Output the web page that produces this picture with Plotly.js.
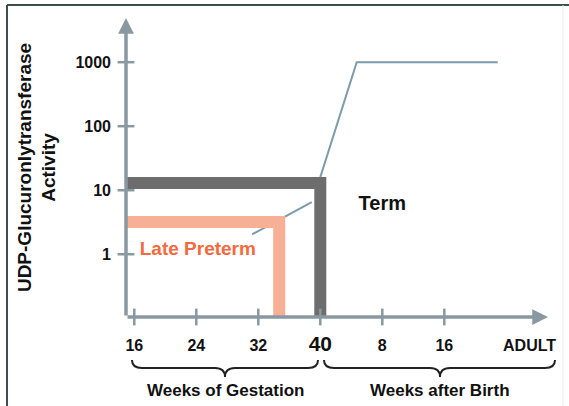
<!DOCTYPE html>
<html><head><meta charset="utf-8">
<script src="https://cdn.plot.ly/plotly-3.0.1.min.js"></script>
<style>html,body{margin:0;padding:0;background:#fff}</style>
</head><body><div id="chart" style="width:569px;height:406px"></div>
<script>
// x: gestational age in weeks (40 = birth, 48 = 8 weeks after birth, 56 = 16 weeks after birth)
const xTickVals = [16, 24, 32, 40, 48, 56, 67];
const xTickText = ['16', '24', '32', '<span style="font-size:21px">40</span>', '8', '16', 'ADULT'];
const xTickMarks = [16, 24, 32, 40, 48, 56];
const yTickVals = [1, 10, 100, 1000];
const yTickText = ['1', '10', '100', '1000'];

// Term band (L shape), late preterm band (L shape)
const termBandX = [14.9, 40, 40];
const termBandY = [13, 13, 0.105];
const pretermBandX = [14.9, 34.7, 34.7];
const pretermBandY = [3.2, 3.2, 0.105];

// UDP-glucuronyltransferase activity curve
const activityX = [40, 44.7, 62.9];
const activityY = [16, 1000, 1000];

// pointer from "Late Preterm" label to the term band
const pointerX = [31.2, 38.9];
const pointerY = [2.05, 6.5];

const labelText = ['Term', 'Late Preterm'];
const labelX = [48, 24.2];
const labelY = [5.8, 1.15];

const braceLabels = ['Weeks of Gestation', 'Weeks after Birth'];
const yTitle = 'UDP-Glucuronlytransferase<br>Activity';

const xRange = [14.93, 69.38];
const yRange = [-0.98, 3.69];
const yBottom = Math.pow(10, yRange[0]);

const axisColor = '#8899a1';
const font = 'Liberation Sans, Arial, sans-serif';

const traces = [
  {x: pointerX, y: pointerY, mode: 'lines', line: {color: '#7d9cab', width: 2}, hoverinfo: 'skip'},
  {x: pretermBandX, y: pretermBandY, mode: 'lines', line: {color: '#f7b096', width: 12}, hoverinfo: 'skip'},
  {x: termBandX, y: termBandY, mode: 'lines', line: {color: '#6d6d6d', width: 12}, hoverinfo: 'skip'},
  {x: activityX, y: activityY, mode: 'lines', line: {color: '#7d9cab', width: 2}, hoverinfo: 'skip'},
  {x: [labelX[0]], y: [labelY[0]], mode: 'text', text: ['<b>' + labelText[0] + '</b>'],
   textfont: {family: font, size: 20, color: '#111'}, hoverinfo: 'skip'},
  {x: [labelX[1]], y: [labelY[1]], mode: 'text', text: ['<b>' + labelText[1] + '</b>'],
   textfont: {family: font, size: 19, color: '#f26a3e'}, hoverinfo: 'skip'},
  {x: xTickMarks, y: xTickMarks.map(() => yBottom), mode: 'markers', cliponaxis: false,
   marker: {symbol: 'line-ns-open', size: 12, color: axisColor, line: {color: axisColor, width: 2.5}}, hoverinfo: 'skip'},
  {x: yTickVals.map(() => xRange[0]), y: yTickVals, mode: 'markers', cliponaxis: false,
   marker: {symbol: 'line-ew-open', size: 12, color: axisColor, line: {color: axisColor, width: 2.5}}, hoverinfo: 'skip'}
];

function brace(x0, xm, x1, yt, ymid, yb, d) {
  return `M${x0},${yt} Q${x0},${ymid} ${x0 + d},${ymid} L${xm - d},${ymid} Q${xm},${ymid} ${xm},${yb} ` +
         `Q${xm},${ymid} ${xm + d},${ymid} L${x1 - d},${ymid} Q${x1},${ymid} ${x1},${yt}`;
}

const layout = {
  width: 569, height: 406,
  margin: {l: 126, r: 21, t: 18, b: 89},
  paper_bgcolor: '#fff', plot_bgcolor: '#fff',
  showlegend: false,
  font: {family: font, color: '#111'},
  xaxis: {
    range: xRange, showgrid: false, zeroline: false, showline: false,
    tickvals: xTickVals, ticktext: xTickText.map(t => '<b>' + t + '</b>'),
    ticks: '', ticklabelstandoff: 17, tickfont: {family: font, size: 16, color: '#111'}
  },
  yaxis: {
    type: 'log', range: yRange, showgrid: false, zeroline: false, showline: false,
    tickvals: yTickVals, ticktext: yTickText.map(t => '<b>' + t + '</b>'),
    ticks: '', ticklabelstandoff: 14, tickfont: {family: font, size: 16, color: '#111'},
    title: {text: '<b>' + yTitle + '</b>', font: {family: font, size: 19, color: '#111'}, standoff: 14}
  },
  shapes: [
    {type: 'line', xref: 'paper', yref: 'paper', x0: -0.282, x1: 1.06, y0: 1.0435, y1: 1.0435, line: {color: '#3d4c52', width: 2}},
    {type: 'line', xref: 'paper', yref: 'paper', x0: -0.282, x1: -0.282, y0: 1.0435, y1: -0.31, line: {color: '#3d4c52', width: 2}},
    {type: 'line', xref: 'paper', yref: 'paper', x0: 1.0355, x1: 1.0355, y0: 1.0435, y1: -0.31, line: {color: '#ececec', width: 1}},
    {type: 'path', xref: 'paper', yref: 'paper', path: brace(0.0142, 0.2346, 0.455, -0.1438, -0.1706, -0.2007, 0.0237), line: {color: '#222', width: 2}},
    {type: 'path', xref: 'paper', yref: 'paper', path: brace(0.4692, 0.7441, 1.0166, -0.1438, -0.1706, -0.2007, 0.0237), line: {color: '#222', width: 2}}
  ],
  annotations: [
    {xref: 'paper', yref: 'paper', x: 1, y: 0, ax: -422, ay: 0, text: '', showarrow: true,
     arrowhead: 2, arrowsize: 0.9, arrowwidth: 3.5, arrowcolor: axisColor},
    {xref: 'paper', yref: 'paper', x: 0, y: 1, ax: 0, ay: 299, text: '', showarrow: true,
     arrowhead: 2, arrowsize: 0.9, arrowwidth: 3.5, arrowcolor: axisColor},
    {xref: 'paper', yref: 'paper', x: 0.2346, y: -0.247, text: '<b>' + braceLabels[0] + '</b>', showarrow: false,
     font: {family: font, size: 17, color: '#111'}, xanchor: 'center', yanchor: 'middle'},
    {xref: 'paper', yref: 'paper', x: 0.7441, y: -0.247, text: '<b>' + braceLabels[1] + '</b>', showarrow: false,
     font: {family: font, size: 17, color: '#111'}, xanchor: 'center', yanchor: 'middle'}
  ]
};

Plotly.newPlot('chart', traces, layout, {displayModeBar: false, staticPlot: true});
</script>
</body></html>
